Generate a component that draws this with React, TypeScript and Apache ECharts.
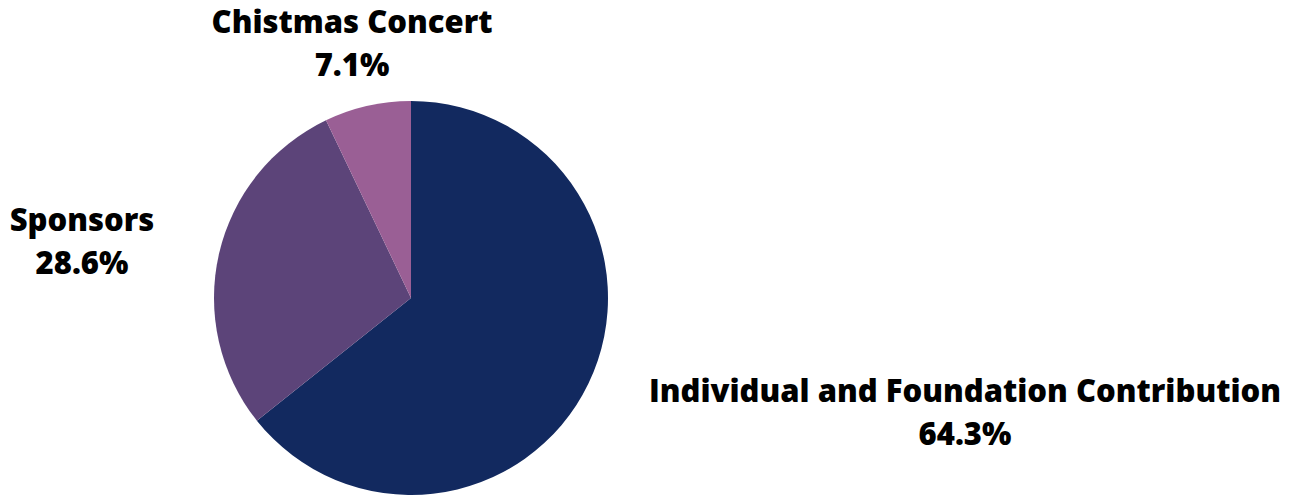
import React, { useEffect, useRef } from "react";
import * as echarts from "echarts";

const categories = ["Individual and Foundation Contribution", "Sponsors", "Chistmas Concert"];
const values = [64.3, 28.6, 7.1];
const colors = ["#12295f", "#5c4479", "#9a5f95"];

export default function App() {
  const ref = useRef<HTMLDivElement>(null);
  useEffect(() => {
    document.body.style.margin = "0";
    const chart = echarts.init(ref.current!, null, { renderer: "svg" });
    const labelSpots: Record<number, [number, number]> = {
      0: [965, 411],
      1: [82, 240],
      2: [352, 42],
    };
    chart.setOption({
      animation: false,
      series: [
        {
          type: "pie",
          center: [411, 298],
          radius: 197,
          startAngle: 90,
          clockwise: true,
          data: categories.map((name, i) => ({ name, value: values[i], itemStyle: { color: colors[i] } })),
          label: {
            show: true,
            position: "outside",
            formatter: (p: any) => `${p.name}\n${p.value.toFixed(1)}%`,
            fontFamily: "Open Sans",
            fontWeight: 800,
            fontSize: 31,
            lineHeight: 43,
            color: "#000",
            align: "center",
            textBorderWidth: 0,
            textBorderColor: "transparent",
          },
          labelLine: { show: false },
          labelLayout: (params: any) => {
            const s = labelSpots[params.dataIndex];
            return { x: s[0], y: s[1], align: "center", verticalAlign: "middle" };
          },
          emphasis: { disabled: true },
        },
      ],
    });
    return () => chart.dispose();
  }, []);
  return <div ref={ref} style={{ width: 1303, height: 495 }} />;
}
